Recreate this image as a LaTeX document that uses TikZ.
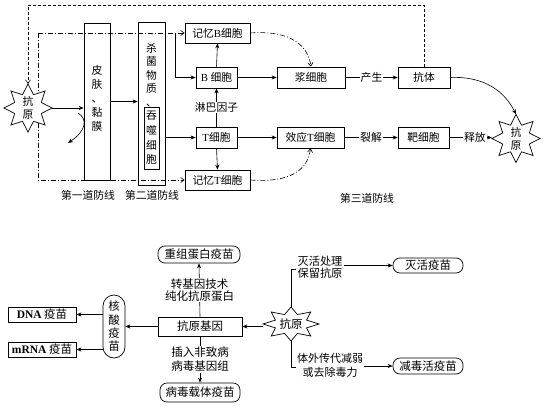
\documentclass[tikz,border=0pt]{standalone}
\usepackage{fontspec}
\setmainfont{Noto Sans CJK SC}
\newfontfamily\lat{Liberation Serif}
\usetikzlibrary{arrows.meta,shapes.geometric,calc}
\newcommand\mystarshape[4]{%
  \draw[line width=0.7pt,fill=white] plot[variable=\k,samples at={0,...,15}]
   ({#1+#3*(1-0.4*mod(\k,2))*cos(90+22.5*\k)},{#2+#4*(1-0.4*mod(\k,2))*sin(90+22.5*\k)}) -- cycle;}
\begin{document}
\begin{tikzpicture}[x=1pt,y=-1pt,
  font=\fontsize{10.8}{13}\selectfont,
  box/.style={draw,line width=0.7pt,inner sep=0pt,anchor=center},
  rbox/.style={box,rounded corners=7pt},
  arr/.style={-{Stealth[length=5pt,width=4pt]},line width=0.6pt},
  ln/.style={line width=0.6pt},
  dd/.style={line width=0.6pt,dash pattern=on 5pt off 2pt on 1pt off 2pt},
  dsh/.style={line width=0.6pt,dash pattern=on 3pt off 2pt},
  barb/.style={-{Straight Barb[length=3.5pt,width=5pt]}},
  lab/.style={fill=white,inner sep=1pt},
  vtxt/.style={align=center,inner sep=0pt,font=\fontsize{10.8}{14}\selectfont},
  agn/.style={ellipse,inner sep=0pt,align=center,font=\fontsize{10.8}{13}\selectfont},
  bt/.style={font=\fontsize{11.5}{13}\selectfont}]
\useasboundingbox (0,0) rectangle (545,409);

% ---------- top: defence lines ----------
\coordinate (d1) at (38,33);
\coordinate (d2) at (38,180);
\coordinate (bj) at (175,33);
\coordinate (top) at (28,5);
\coordinate (r1) at (78,113);
\coordinate (r2) at (68,143);

\node[box,minimum width=26pt,minimum height=157pt] (skin) at (97,101.5) {};
\node[vtxt] (skintxt) at (97,98) {皮\\肤\\、\\黏\\膜};
\node[box,minimum width=27pt,minimum height=163pt] (sec) at (151.5,103.5) {};
\node[vtxt,font=\fontsize{10.8}{13.5}\selectfont] (sectxt) at (151.5,75) {杀\\菌\\物\\质\\、};
\node[box,minimum width=15pt,minimum height=62pt,align=center,font=\fontsize{10.8}{14.6}\selectfont] (tsb) at (151.5,138) {吞\\噬\\细\\胞};

\node[box,minimum width=65pt,minimum height=20pt] (mb) at (217.5,33) {记忆{\lat B}细胞};
\node[box,minimum width=41pt,minimum height=21pt] (b) at (216.5,77.5) {{\lat B} 细胞};
\node[box,minimum width=41pt,minimum height=21pt] (t) at (216.5,137.5) {{\lat T}细胞};
\node[box,minimum width=65pt,minimum height=20pt] (mt) at (217.5,180) {记忆{\lat T}细胞};
\node[box,minimum width=68pt,minimum height=21pt] (jx) at (311,77.5) {浆细胞};
\node[box,minimum width=52pt,minimum height=21pt] (kt) at (424,77.5) {抗体};
\node[box,minimum width=67pt,minimum height=21pt] (xy) at (310.5,137.5) {效应{\lat T}细胞};
\node[box,minimum width=51pt,minimum height=21pt] (bx) at (423.5,137.5) {靶细胞};

% dash-dot memory paths (behind the antigen star)
\draw[dd,barb] (d1) -- (mb.west);
\draw[dd,barb] (d1) -- (d2) -- (mt.west);
\draw[arr] (bj) |- (b.west);

% antigen stars
\mystarshape{28}{108}{24}{24}
\node[agn,minimum width=48pt,minimum height=48pt] (agL) at (28,108) {抗\\原};
\mystarshape{516}{138.5}{24}{24}
\node[agn,minimum width=48pt,minimum height=48pt] (agR) at (516,138.5) {抗\\原};

% dashed feedback from antibody
\draw[dsh,barb] (kt.north) |- (top) -- (agL.north);

\draw[arr] (agL.east) -- (agL.east -| skin.west);
\draw[arr] (r1) .. controls (88,119) and (86,131) .. (r2);
\draw[arr] (skin.east) -- (skin.east -| sec.west);
\draw[arr] (sec.east |- t.west) -- (t.west);
\draw[arr] (t.north) -- node[lab]{淋巴因子} (b.south);
\draw[arr] (b.north) -- (mb.south);
\draw[arr] (t.south) -- (mt.north);
\draw[arr] (b.east) -- (jx.west);
\draw[arr] (jx.east) -- node[lab]{产生} (kt.west);
\draw[arr] (t.east) -- (xy.west);
\draw[arr] (xy.east) -- node[lab]{裂解} (bx.west);
\draw[arr] (bx.east) -- node[lab,pos=0.6]{释放} (bx.east -| agR.west);
\draw[dd,barb] (mb.east) .. controls (290,30) and (308,45) .. (jx.north);
\draw[dd,barb] (mt.east) .. controls (290,183) and (308,170) .. (xy.south);
\draw[arr] (kt.east) .. controls (485,76) and (505,92) .. (agR.north);

\node (l1) at (88,195) {第一道防线};
\node (l2) at (152,195) {第二道防线};
\node (l3) at (367,198) {第三道防线};

% ---------- bottom: vaccines ----------
\node[rbox,bt,minimum width=82pt,minimum height=17pt] (cz) at (199,254.5) {重组蛋白疫苗};
\node[box,bt,minimum width=84pt,minimum height=19pt] (kg) at (200,326.5) {抗原基因};
\node[box,rounded corners=11pt,minimum width=22pt,minimum height=63pt,align=center,font=\fontsize{11.5}{13.3}\selectfont] (hs) at (114,326.5) {核\\酸\\疫\\苗};
\node[box,bt,minimum width=68pt,minimum height=15pt] (dna) at (42,314.5) {{\lat\bfseries DNA} 疫苗};
\node[box,bt,minimum width=68pt,minimum height=15pt] (mrna) at (42,349.5) {{\lat\bfseries mRNA} 疫苗};
\node[rbox,bt,minimum width=80pt,minimum height=19pt] (bd) at (200,392.5) {病毒载体疫苗};
\node[rbox,bt,minimum width=70pt,minimum height=15pt] (mh) at (428,265.5) {灭活疫苗};
\node[rbox,bt,minimum width=70pt,minimum height=16pt] (jd) at (428,366) {减毒活疫苗};

\mystarshape{291}{324}{28}{17}
\node[agn,bt,minimum width=56pt,minimum height=34pt] (agB) at (291,324) {抗原};

\draw[arr] (kg.north) -- node[lab,align=center,font=\fontsize{11.5}{12}\selectfont]{转基因技术\\纯化抗原蛋白} (cz.south);
\draw[arr] (kg.south) -- node[lab,align=center,font=\fontsize{11.5}{14}\selectfont]{插入非致病\\病毒基因组} (bd.north);
\draw[arr] (kg.west) -- (hs.east);
\draw[arr] (hs.west |- dna.east) -- (dna.east);
\draw[arr] (hs.west |- mrna.east) -- (mrna.east);
\draw[arr] (agB.west |- kg.east) -- (kg.east);

\coordinate (u1) at (292,269);
\coordinate (u2) at (292,367);
\node[align=center,inner sep=1pt,font=\fontsize{11.2}{11.5}\selectfont] (lu) at (320,267.5) {灭活处理\\保留抗原};
\node[align=center,inner sep=1pt,font=\fontsize{11}{14}\selectfont] (ld) at (330,365) {体外传代减弱\\或去除毒力};
\draw[ln] (agB.north) -- (agB.north |- u1) -- ++(5,0);
\draw[ln] (agB.south) -- (agB.south |- u2) -- ++(5,0);
\draw[arr] (lu.east |- mh.west) -- (mh.west);
\draw[arr] (ld.east |- jd.west) -- (jd.west);
\end{tikzpicture}
\end{document}
